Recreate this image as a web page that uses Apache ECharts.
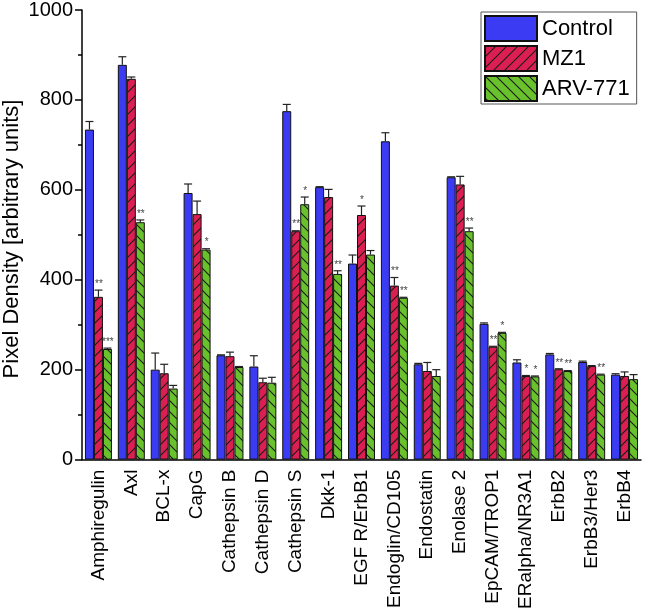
<!DOCTYPE html>
<html>
<head>
<meta charset="utf-8">
<script src="https://cdn.jsdelivr.net/npm/echarts@6/dist/echarts.min.js"></script>
<style>
html,body{margin:0;padding:0;background:#fff;}
#chart{width:645px;height:612px;}
</style>
</head>
<body>
<div id="chart"></div>
<script>
const categories = ['Amphiregulin','Axl','BCL-x','CapG','Cathepsin B','Cathepsin D','Cathepsin S','Dkk-1','EGF R/ErbB1','Endoglin/CD105','Endostatin','Enolase 2','EpCAM/TROP1','ERalpha/NR3A1','ErbB2','ErbB3/Her3','ErbB4'];
const seriesNames = ['Control','MZ1','ARV-771'];
const control = [734, 878, 200, 593, 232, 207, 775, 606, 436, 708, 212, 628, 302, 216, 234, 217, 189];
const mz1     = [362, 847, 192, 546, 230, 172, 508, 584, 544, 387, 197, 612, 251, 186, 201, 208, 186];
const arv771  = [246, 528, 158, 467, 206, 171, 568, 413, 456, 360, 186, 508, 282, 185, 197, 189, 179];
const controlErr = [18, 18, 37, 20, 1, 24, 15, 1, 19, 19, 2, 1, 2, 6, 2, 2, 2];
const mz1Err     = [15, 4, 20, 29, 9, 9, 1, 17, 20, 18, 19, 18, 1, 1, 1, 1, 9];
const arv771Err  = [2, 5, 7, 2, 1, 12, 16, 7, 9, 1, 14, 7, 1, 1, 1, 1, 10];
const controlSig = ['','','','','','','','','','','','','','','','',''];
const mz1Sig     = ['**','','','','','','**','','*','**','','','**','*','**','',''];
const arv771Sig  = ['***','**','','*','','','*','**','','**','','**','*','*','**','**',''];
const yTicks = [0, 200, 400, 600, 800, 1000];
const yTitle = 'Pixel Density [arbitrary units]';

const colors = ['#3b3bf3', '#db1f52', '#69c12c'];
const FONT = 'Liberation Sans, Arial, sans-serif';

function hatch(bg, dir) {
  const S = 11;
  const c = document.createElement('canvas');
  c.width = S; c.height = S;
  const g = c.getContext('2d');
  g.fillStyle = bg; g.fillRect(0, 0, S, S);
  g.strokeStyle = '#1a1a1a'; g.lineWidth = 1.1;
  g.beginPath();
  if (dir === '/') {
    g.moveTo(-1, S + 1); g.lineTo(S + 1, -1);
    g.moveTo(-1, 1); g.lineTo(1, -1);
    g.moveTo(S - 1, S + 1); g.lineTo(S + 1, S - 1);
  } else {
    g.moveTo(-1, -1); g.lineTo(S + 1, S + 1);
    g.moveTo(S - 1, -1); g.lineTo(S + 1, 1);
    g.moveTo(-1, S - 1); g.lineTo(1, S + 1);
  }
  g.stroke();
  return { image: c, repeat: 'repeat' };
}

const fills = [colors[0], hatch(colors[1], '/'), hatch(colors[2], '\\')];
const values = [control, mz1, arv771];
const errs = [controlErr, mz1Err, arv771Err];
const sigs = [controlSig, mz1Sig, arv771Sig];
const GAP = 0.18;

const series = [];
seriesNames.forEach((name, s) => {
  series.push({
    name: name, type: 'bar', xAxisIndex: 0,
    data: values[s], barGap: '0%', barCategoryGap: (GAP * 100) + '%',
    itemStyle: { color: fills[s], borderColor: '#111', borderWidth: 1 },
    emphasis: { disabled: true }
  });
});
seriesNames.forEach((name, s) => {
  series.push({
    type: 'custom', xAxisIndex: 0, z: 5, silent: true,
    data: values[s].map((v, i) => [i, v, errs[s][i], s]),
    renderItem: function (params, api) {
      const i = api.value(0), v = api.value(1), e = api.value(2), si = api.value(3);
      const band = api.size([1, 0])[0];
      const bw = band * (1 - GAP) / 3;
      const base = api.coord([i, v]);
      const x = base[0] + (si - 1) * bw;
      const top = api.coord([i, v + e])[1];
      const children = [
        { type: 'line', shape: { x1: x, y1: base[1], x2: x, y2: top }, style: { stroke: '#222', lineWidth: 1.2 } },
        { type: 'line', shape: { x1: x - bw / 2 + 0.5, y1: top, x2: x + bw / 2 - 0.5, y2: top }, style: { stroke: '#222', lineWidth: 1.2 } }
      ];
      const t = sigs[si][i];
      if (t) {
        children.push({ type: 'text', style: { text: t, x: x + 0.5, y: top - 1, textAlign: 'center', textVerticalAlign: 'bottom', fontSize: 10, fontFamily: FONT, fill: '#444' } });
      }
      return { type: 'group', children: children };
    }
  });
});

const chart = echarts.init(document.getElementById('chart'), null, { renderer: 'canvas' });
chart.setOption({
  animation: false,
  textStyle: { fontFamily: FONT },
  grid: { left: 82, right: 4, top: 7, bottom: 152, containLabel: false },
  legend: {
    orient: 'vertical', left: 481, top: 12,
    data: seriesNames,
    itemWidth: 52, itemHeight: 25, itemGap: 3,
    padding: [3, 7, 2, 3],
    borderColor: '#555', borderWidth: 1,
    textStyle: { fontSize: 22, color: '#000', fontFamily: FONT },
    icon: 'rect',
    selectedMode: false
  },
  graphic: [{
    type: 'text', x: 12, y: 239, rotation: Math.PI / 2,
    style: { text: yTitle, textAlign: 'center', textVerticalAlign: 'middle', fontSize: 22, fontFamily: FONT, fill: '#000' }
  }],
  xAxis: [
    {
      type: 'category', data: categories,
      axisLine: { lineStyle: { color: '#000', width: 1.5 } },
      axisTick: { alignWithLabel: true, length: 6, lineStyle: { color: '#000', width: 1.5 } },
      axisLabel: { rotate: 90, fontSize: 19, color: '#000', margin: 10, interval: 0 },
      splitLine: { show: false }
    },
    {
      type: 'category', data: categories, position: 'bottom',
      axisLine: { show: false },
      axisTick: { length: 3, lineStyle: { color: '#000', width: 1.5 } },
      axisLabel: { show: false },
      splitLine: { show: false }
    }
  ],
  yAxis: {
    type: 'value', min: yTicks[0], max: yTicks[yTicks.length - 1], interval: 200,
    axisLine: { show: true, lineStyle: { color: '#000', width: 1.5 } },
    axisTick: { show: true, length: 7, lineStyle: { color: '#000', width: 1.5 } },
    minorTick: { show: true, splitNumber: 2, length: 4, lineStyle: { color: '#000', width: 1.5 } },
    axisLabel: { fontSize: 20, color: '#000', margin: 9, formatter: function (v) { return String(v); } },
    splitLine: { show: false }
  },
  series: series
});
</script>
</body>
</html>
